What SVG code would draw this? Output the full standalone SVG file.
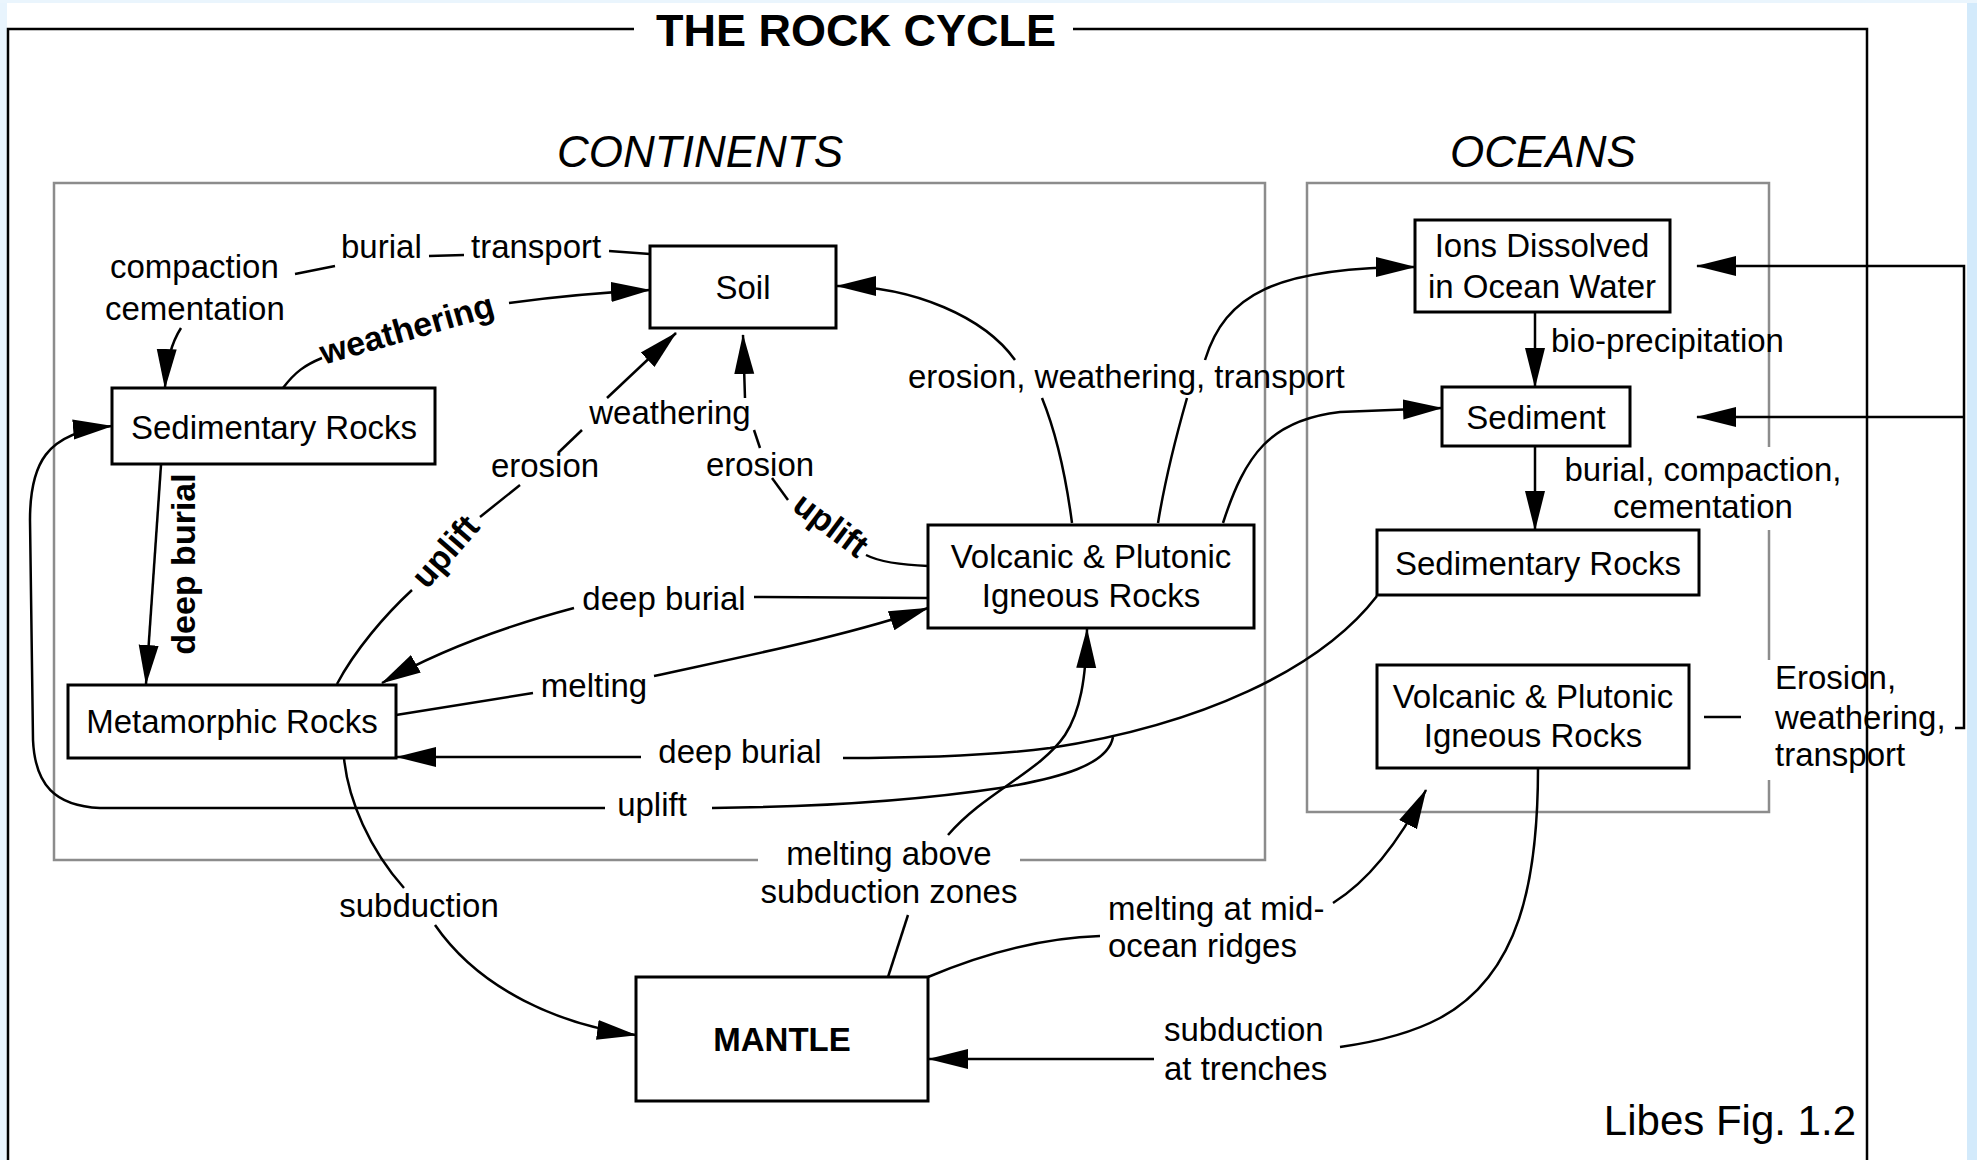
<svg xmlns="http://www.w3.org/2000/svg" width="1977" height="1160" viewBox="0 0 1977 1160">
<style>
  text { font-family: "Liberation Sans", Arial, sans-serif; fill: #000; }
  .lbl { font-size: 33px; }
  .ntx { font-size: 33px; text-anchor: middle; }
  .bold { font-size: 34px; font-weight: bold; }
  .sec { font-size: 44px; font-style: italic; text-anchor: middle; }
  .node rect { fill: #fff; stroke: #000; stroke-width: 3; }
  .conn path { fill: none; stroke: #000; stroke-width: 2.5; }
  .arr { marker-end: url(#ah); }
  .gray { fill: none; stroke: #8c8c8c; stroke-width: 2.5; }
  .frame { fill: none; stroke: #000; stroke-width: 2.5; }
</style>
<defs>
  <marker id="ah" markerUnits="userSpaceOnUse" markerWidth="40" markerHeight="22" viewBox="0 0 40 22" refX="39" refY="11" orient="auto">
    <path d="M0,1 L40,11 L0,21 Z" fill="#000"/>
  </marker>
</defs>
<rect x="0" y="0" width="1977" height="1160" fill="#fff"/>
<rect x="0" y="0" width="7" height="1160" fill="#e8f4fd"/>
<rect x="1967" y="0" width="10" height="1160" fill="#d3eafb"/>
<rect x="0" y="0" width="1977" height="3" fill="#eaf5fd"/>

<g id="frame">
  <path class="frame" d="M634,29 L8,29 L8,1160 M1073,29 L1867,29 L1867,1160"/>
  <text x="856" y="46" style="font-size:45px;font-weight:bold" text-anchor="middle">THE ROCK CYCLE</text>
</g>

<g id="continents">
  <path class="gray" d="M758,860 L54,860 L54,183 L1265,183 L1265,860 L1020,860"/>
  <text class="sec" x="700" y="167">CONTINENTS</text>
</g>
<g id="oceans">
  <path class="gray" d="M1769,447 L1769,183 L1307,183 L1307,812 L1769,812 L1769,780 M1769,660 L1769,530"/>
  <text class="sec" x="1543" y="167">OCEANS</text>
</g>

<g id="connectors" class="conn">
  <!-- Soil -> burial/transport -> compaction -> Sedimentary Rocks -->
  <path d="M650,254 L609,251"/>
  <path d="M429,256 L464,255"/>
  <path d="M295,274 L335,266"/>
  <path class="arr" d="M181,328 C170,345 166,365 165,388"/>
  <!-- Sedimentary Rocks -> Soil (weathering) -->
  <path d="M283,388 C295,372 305,365 322,358"/>
  <path class="arr" d="M509,303 C560,296 610,292 650,290"/>
  <!-- Metamorphic -> Soil (uplift, erosion, weathering) -->
  <path d="M337,684 C355,650 385,615 412,590"/>
  <path d="M480,517 L520,485"/>
  <path d="M558,453 L582,430"/>
  <path class="arr" d="M607,398 L676,333"/>
  <!-- Volcanic -> Soil (uplift, erosion, weathering) -->
  <path d="M928,566 C900,565 880,562 866,555"/>
  <path d="M772,478 L788,500"/>
  <path d="M754,430 L760,448"/>
  <path class="arr" d="M745,398 L743,335"/>
  <!-- Volcanic -> Soil (erosion, weathering, transport) -->
  <path d="M1072,523 C1065,470 1055,430 1042,398"/>
  <path class="arr" d="M1015,360 C985,318 915,286 837,286"/>
  <!-- Volcanic -> Ions -->
  <path d="M1158,523 C1165,480 1175,440 1187,398"/>
  <path class="arr" d="M1205,360 C1225,295 1275,267 1415,267"/>
  <!-- Volcanic -> Sediment -->
  <path class="arr" d="M1223,523 C1245,455 1270,420 1340,412 L1442,408"/>
  <!-- Ions -> Sediment -> Sedimentary Rocks (oceans) -->
  <path class="arr" d="M1535,312 L1535,387"/>
  <path class="arr" d="M1535,446 L1535,530"/>
  <!-- Sedimentary Rocks (oceans) -> Metamorphic (deep burial) -->
  <path d="M1377,596 C1320,670 1200,725 1050,748 C980,757 900,758 843,758"/>
  <path class="arr" d="M641,757 L397,757"/>
  <!-- uplift -> Sedimentary Rocks (continents) -->
  <path d="M1113,737 C1108,765 1060,778 1000,788 C920,800 820,807 712,808"/>
  <path class="arr" d="M605,808 L100,808 C55,806 35,785 33,740 L30,520 C30,465 45,432 112,426"/>
  <!-- Metamorphic -> Volcanic (melting) -->
  <path d="M396,715 L533,693"/>
  <path class="arr" d="M654,676 C750,655 850,635 928,608"/>
  <!-- Volcanic -> Metamorphic (deep burial) -->
  <path d="M928,598 L754,597"/>
  <path class="arr" d="M574,608 C510,625 440,650 382,683"/>
  <!-- Metamorphic -> Mantle (subduction) -->
  <path d="M344,758 C348,800 370,850 404,888"/>
  <path class="arr" d="M435,925 C480,990 560,1025 636,1035"/>
  <!-- Sedimentary Rocks -> Metamorphic (deep burial) -->
  <path class="arr" d="M161,465 L146,684"/>
  <!-- Mantle -> Volcanic (melting above subduction zones) -->
  <path d="M888,977 L908,915"/>
  <path class="arr" d="M948,835 C985,792 1040,772 1065,735 C1080,712 1086,680 1087,629"/>
  <!-- Mantle -> Volcanic oceans (melting at mid-ocean ridges) -->
  <path d="M928,977 C980,955 1040,938 1100,936"/>
  <path class="arr" d="M1333,903 C1370,880 1400,840 1426,790"/>
  <!-- Volcanic oceans -> Mantle (subduction at trenches) -->
  <path d="M1538,768 C1538,880 1520,975 1440,1018 C1410,1034 1375,1042 1340,1047"/>
  <path class="arr" d="M1154,1059 L929,1059"/>
  <!-- Volcanic oceans -> Ions / Sediment (erosion, weathering, transport) -->
  <path d="M1704,717 L1741,717"/>
  <path class="arr" d="M1955,728 L1964,728 L1964,266 L1697,266"/>
  <path class="arr" d="M1964,417 L1697,417"/>
</g>

<g id="soil" class="node">
  <rect x="650" y="246" width="186" height="82"/>
  <text class="ntx" x="743" y="299">Soil</text>
</g>
<g id="sed-rocks-cont" class="node">
  <rect x="112" y="388" width="323" height="76"/>
  <text class="ntx" x="274" y="439">Sedimentary Rocks</text>
</g>
<g id="metamorphic" class="node">
  <rect x="68" y="685" width="328" height="73"/>
  <text class="ntx" x="232" y="733">Metamorphic Rocks</text>
</g>
<g id="igneous-cont" class="node">
  <rect x="928" y="525" width="326" height="103"/>
  <text class="ntx" x="1091" y="568">Volcanic &amp; Plutonic</text>
  <text class="ntx" x="1091" y="607">Igneous Rocks</text>
</g>
<g id="ions" class="node">
  <rect x="1415" y="220" width="255" height="92"/>
  <text class="ntx" x="1542" y="257">Ions Dissolved</text>
  <text class="ntx" x="1542" y="298">in Ocean Water</text>
</g>
<g id="sediment" class="node">
  <rect x="1442" y="387" width="188" height="59"/>
  <text class="ntx" x="1536" y="429">Sediment</text>
</g>
<g id="sed-rocks-ocean" class="node">
  <rect x="1377" y="530" width="322" height="65"/>
  <text class="ntx" x="1538" y="575">Sedimentary Rocks</text>
</g>
<g id="igneous-ocean" class="node">
  <rect x="1377" y="665" width="312" height="103"/>
  <text class="ntx" x="1533" y="708">Volcanic &amp; Plutonic</text>
  <text class="ntx" x="1533" y="747">Igneous Rocks</text>
</g>
<g id="mantle" class="node">
  <rect x="636" y="977" width="292" height="124"/>
  <text x="782" y="1051" style="font-size:33px;font-weight:bold" text-anchor="middle">MANTLE</text>
</g>

<g id="labels">
  <text class="lbl" x="110" y="278">compaction</text>
  <text class="lbl" x="105" y="320">cementation</text>
  <text class="lbl" x="341" y="258">burial</text>
  <text class="lbl" x="471" y="258">transport</text>
  <text class="bold" transform="translate(410,340) rotate(-16)" text-anchor="middle">weathering</text>
  <text class="bold" transform="translate(195,564) rotate(-90)" text-anchor="middle">deep burial</text>
  <text class="bold" transform="translate(454,559) rotate(-49)" text-anchor="middle">uplift</text>
  <text class="lbl" x="545" y="477" text-anchor="middle">erosion</text>
  <text class="lbl" x="670" y="424" text-anchor="middle">weathering</text>
  <text class="bold" transform="translate(824,534) rotate(37)" text-anchor="middle">uplift</text>
  <text class="lbl" x="760" y="476" text-anchor="middle">erosion</text>
  <text class="lbl" x="908" y="388">erosion, weathering, transport</text>
  <text class="lbl" x="1551" y="352">bio-precipitation</text>
  <text class="lbl" x="1703" y="481" text-anchor="middle">burial, compaction,</text>
  <text class="lbl" x="1703" y="518" text-anchor="middle">cementation</text>
  <text class="lbl" x="664" y="610" text-anchor="middle">deep burial</text>
  <text class="lbl" x="594" y="697" text-anchor="middle">melting</text>
  <text class="lbl" x="740" y="763" text-anchor="middle">deep burial</text>
  <text class="lbl" x="652" y="816" text-anchor="middle">uplift</text>
  <text class="lbl" x="419" y="917" text-anchor="middle">subduction</text>
  <text class="lbl" x="889" y="865" text-anchor="middle">melting above</text>
  <text class="lbl" x="889" y="903" text-anchor="middle">subduction zones</text>
  <text class="lbl" x="1108" y="920">melting at mid-</text>
  <text class="lbl" x="1108" y="957">ocean ridges</text>
  <text class="lbl" x="1164" y="1041">subduction</text>
  <text class="lbl" x="1164" y="1080">at trenches</text>
  <text class="lbl" x="1775" y="689">Erosion,</text>
  <text class="lbl" x="1775" y="729">weathering,</text>
  <text class="lbl" x="1775" y="766">transport</text>
  <text x="1856" y="1135" style="font-size:42px" text-anchor="end">Libes Fig. 1.2</text>
</g>
</svg>
